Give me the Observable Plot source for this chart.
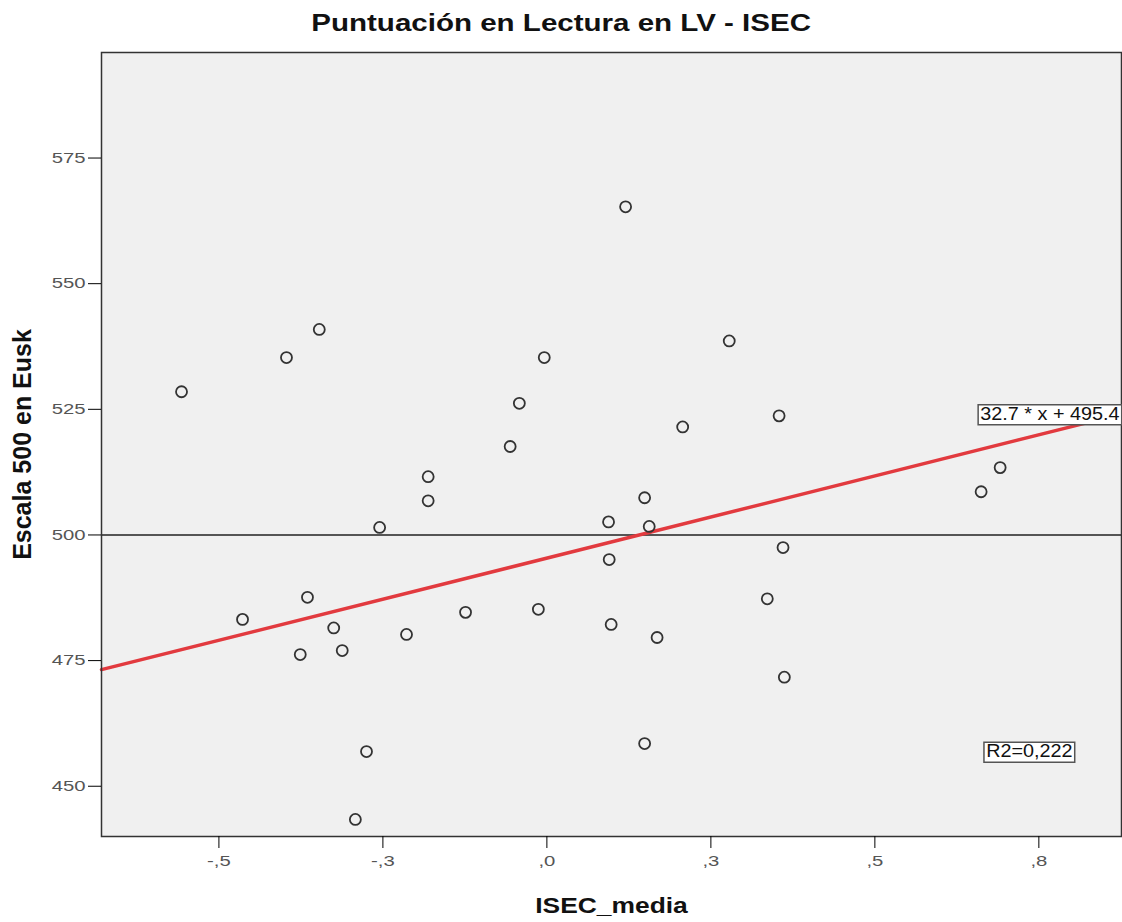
<!DOCTYPE html>
<html><head><meta charset="utf-8">
<script src="https://cdn.jsdelivr.net/npm/d3@7"></script>
<script src="https://cdn.jsdelivr.net/npm/@observablehq/plot@0.6"></script>
<style>
body{margin:0;background:#fff;font-family:"Liberation Sans",Arial,sans-serif;}
#title{height:40px;text-align:center;line-height:46px;color:#111;}
#title span{display:inline-block;font-weight:bold;font-size:24px;transform:scaleX(1.23);}
#chart svg{display:block;}
</style></head><body>
<div id="title"><span>Puntuación en Lectura en LV - ISEC</span></div>
<div id="chart"></div>
<script>
// ISEC_media (x) and Escala 500 en Eusk (y)
const isec = [-0.557,-0.397,-0.347,-0.464,-0.365,-0.325,-0.376,-0.312,-0.275,-0.292,
  -0.255,-0.214,-0.181,-0.181,-0.124,-0.056,-0.042,-0.013,-0.004,0.120,
  0.094,0.095,0.098,0.149,0.156,0.149,0.168,0.207,0.278,0.336,
  0.354,0.360,0.362,0.662,0.691];
const score = [528.5,535.3,540.9,483.2,487.6,481.5,476.2,477.0,456.9,443.4,
  501.5,480.2,511.6,506.8,484.6,517.6,526.2,485.2,535.3,565.3,
  502.6,495.1,482.2,507.4,501.7,458.5,479.6,521.5,538.6,487.3,
  523.7,497.5,471.7,508.6,513.4];
const xTicks = [-0.5,-0.25,0,0.25,0.5,0.75];
const xTickLabels = ["-,5","-,3",",0",",3",",5",",8"];
const yTicks = [450,475,500,525,550,575];
const xDomain = [-0.679,0.876];
const yDomain = [440,596];
const refLine = [500];
const slope = 32.7, intercept = 495.4;
const eqText = "32.7 * x + 495.4";
const r2Text = "R2=0,222";
const r2Anchor = {x:0.7355, y:456.9};
const xTitle = "ISEC_media";
const yTitle = "Escala 500 en Eusk";

const data = isec.map((x,i)=>({x, y:score[i]}));
const fit = xDomain.map(x=>({x, y:slope*x+intercept}));
const eqAnchor = [{x:xDomain[1], y:slope*xDomain[1]+intercept, t:eqText}];

const svg = Plot.plot({
  width:1122, height:882,
  marginTop:12, marginLeft:101, marginRight:1, marginBottom:86,
  style:{fontFamily:"'Liberation Sans', Arial, sans-serif", fontSize:"15px", background:"transparent", overflow:"visible"},
  x:{domain:xDomain},
  y:{domain:yDomain},
  marks:[
    Plot.frame({fill:"#f0f0f0"}),
    Plot.ruleY(refLine, {stroke:"#222", strokeWidth:1.5}),
    Plot.line(fit, {x:"x", y:"y", stroke:"#e23a3f", strokeWidth:3.5}),
    Plot.dot(data, {x:"x", y:"y", r:5.5, stroke:"#333", strokeWidth:1.8, fill:"none"}),
    Plot.frame({stroke:"#333", strokeWidth:1.5}),
    Plot.axisX({ticks:xTicks, tickFormat:d=>xTickLabels[xTicks.indexOf(d)], tickSize:12, tickPadding:7, label:null, fill:"#555", fontSize:14.5, className:"xtl"}),
    Plot.axisY({ticks:yTicks, tickSize:13, tickPadding:3, label:null, fill:"#555", fontSize:14.5, className:"ytl"}),
    Plot.text([xTitle], {frameAnchor:"bottom", lineAnchor:"middle", textAnchor:"middle", dy:69, fontWeight:"bold", fontSize:22, fill:"#111", className:"xtitle"}),
    Plot.text([yTitle], {frameAnchor:"left", textAnchor:"middle", lineAnchor:"middle", dx:-79, rotate:-90, fontWeight:"bold", fontSize:25, fill:"#111"}),
    Plot.text(eqAnchor, {x:"x", y:"y", text:"t", textAnchor:"end", dx:-2, fontSize:18, fill:"#111", className:"boxlabel"}),
    Plot.text([r2Anchor], {x:"x", y:"y", text:()=>r2Text, fontSize:18, fill:"#111", className:"boxlabel"})
  ]
});
document.getElementById("chart").appendChild(svg);

function stretch(sel, k){
  svg.querySelectorAll(sel).forEach(t=>{
    const tr = t.getAttribute("transform") || "";
    t.setAttribute("transform", tr + ` scale(${k},1)`);
  });
}
// tick labels of the reference are horizontally wide
let xt = svg.querySelectorAll('g[aria-label="x-axis tick label"] text');
if (xt.length) stretch('g[aria-label="x-axis tick label"] text', 1.4); else stretch('g.xtl text', 1.4);
let yt = svg.querySelectorAll('g[aria-label="y-axis tick label"] text');
if (yt.length) stretch('g[aria-label="y-axis tick label"] text', 1.4); else stretch('g.ytl text', 1.4);
stretch('g.xtitle text', 1.2);
stretch('g.boxlabel text', 1.1);

d3.select(svg).selectAll("g.boxlabel text").each(function(){
  const b = this.getBBox();
  const rect = document.createElementNS("http://www.w3.org/2000/svg","rect");
  const tr = this.getAttribute("transform");
  if (tr) rect.setAttribute("transform", tr);
  rect.setAttribute("x", b.x-2); rect.setAttribute("y", b.y+1);
  rect.setAttribute("width", b.width+4); rect.setAttribute("height", b.height);
  rect.setAttribute("fill","#fff"); rect.setAttribute("stroke","#555"); rect.setAttribute("stroke-width","1.5");
  rect.setAttribute("vector-effect","non-scaling-stroke");
  this.parentNode.insertBefore(rect, this);
});
</script>
</body></html>
